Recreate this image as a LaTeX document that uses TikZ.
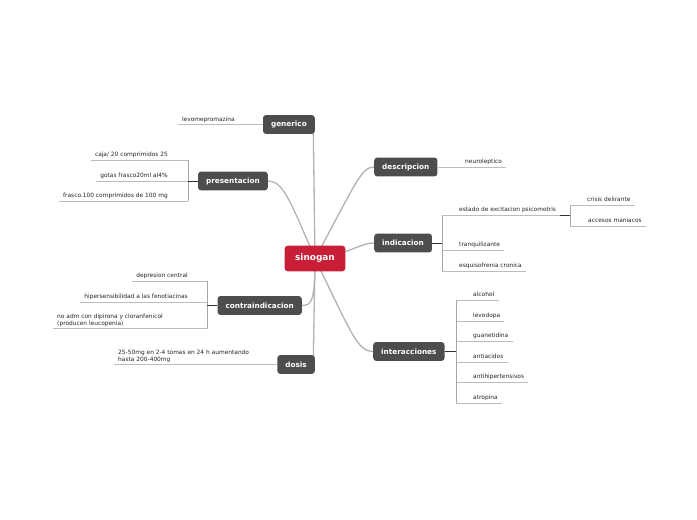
\documentclass[tikz,border=0pt]{standalone}
\usepackage{fontspec}
\setmainfont{DejaVu Sans}
\definecolor{rootred}{RGB}{200, 30, 55}
\definecolor{topicgray}{RGB}{77, 77, 77}
\definecolor{branch}{RGB}{178, 178, 178}
\definecolor{leafrule}{RGB}{188, 188, 188}
\pgfdeclarelayer{background}
\pgfsetlayers{background,main}

\begin{document}
\begin{tikzpicture}[
	x=0.85pt, y=-0.85pt,
	% Styles for the boxes, the leaf texts and the lines
	rootbox/.style={fill=rootred, text=white, rounded corners=3pt, font=\fontsize{7.6}{9}\selectfont\bfseries, minimum height=22pt, inner xsep=9pt},
	topicbox/.style={fill=topicgray, text=white, rounded corners=2.5pt, font=\fontsize{6.2}{7.5}\selectfont\bfseries, minimum height=16pt, inner xsep=6.8pt, inner ysep=0pt},
	leaftwo/.style={font=\fontsize{5}{6}\selectfont, text=black!85, inner xsep=3.4pt, inner ysep=1.3pt},
	leaf/.style={leaftwo, text height=3.8pt, text depth=1.2pt},
	mainline/.style={draw=branch, line width=1.1pt},
	leafline/.style={draw=leafrule, line width=0.6pt},
	brackline/.style={draw=gray!70, line width=0.6pt},
	stubline/.style={draw=black!80, line width=0.8pt}
	]
	
	% ==========================================
	% 1. CENTRAL TOPIC AND MAIN TOPICS
	% ==========================================
	\node[rootbox] (sinogan) at (315,258.5) {sinogan};
	
	\node[topicbox, anchor=east] (generico) at (315,124.5) {generico};
	\node[topicbox, anchor=east] (presentacion) at (268,181) {presentacion};
	\node[topicbox, anchor=west] (descripcion) at (374,167) {descripcion};
	\node[topicbox, anchor=west] (indicacion) at (374,243) {indicacion};
	\node[topicbox, anchor=east] (contraindicacion) at (302,305.5) {contraindicacion};
	\node[topicbox, anchor=east] (dosis) at (315,364.5) {dosis};
	\node[topicbox, anchor=west] (interacciones) at (373,351.5) {interacciones};
	
	% Branches behind the boxes
	\begin{pgfonlayer}{background}
		\fill[white] (0,0) rectangle (697,520);
		\draw[mainline] (sinogan.center) -- ([xshift=-1.5pt]generico.east);
		\draw[mainline] (sinogan.center) .. controls (290,200) and (283,181) .. (presentacion.east);
		\draw[mainline] (sinogan.center) .. controls (355,185) and (361,167) .. (descripcion.west);
		\draw[mainline] (sinogan.center) .. controls (355,252) and (360,243) .. (indicacion.west);
		\draw[mainline] (sinogan.center) .. controls (315,300) and (312,305.5) .. (contraindicacion.east);
		\draw[mainline] (sinogan.center) -- ([xshift=-1.5pt]dosis.east);
		\draw[mainline] (sinogan.center) .. controls (352,335) and (358,351.5) .. (interacciones.west);
	\end{pgfonlayer}
	
	% ==========================================
	% 2. LEFT SIDE
	% ==========================================
	% generico
	\node[leaf, anchor=south east] (levome) at (239,124.5) {levomepromazina};
	\draw[leafline] (levome.south west) -- (generico.west);
	
	% presentacion
	\coordinate (presB) at (188,181);
	\node[leaf, anchor=south east] (caja) at (172,160) {caja/ 20 comprimidos 25};
	\node[leaf, anchor=south east] (gotas) at (172,181) {gotas frasco20ml al4\%};
	\node[leaf, anchor=south east] (frasco) at (172,201) {frasco.100 comprimidos de 100 mg};
	\draw[brackline] (caja.south east -| presB) -- (frasco.south east -| presB);
	\draw[stubline] (presentacion.west) -- (presB);
	\foreach \n in {caja,gotas,frasco}
		\draw[leafline] (\n.south west) -- (\n.south east -| presB);
	
	% contraindicacion
	\coordinate (conB) at (207,305.5);
	\node[leaf, anchor=south east] (depre) at (192,281) {depresion central};
	\node[leaf, anchor=south east] (hiper) at (192,302) {hipersensibilidad a las fenotiacinas};
	\node[leaftwo, anchor=south west, align=left] (noadm) at (53,328.5) {no adm con dipirona y cloranfenicol\\(producen leucopenia)};
	\draw[brackline] (depre.south east -| conB) -- (noadm.south west -| conB);
	\draw[stubline] (contraindicacion.west) -- (conB);
	\foreach \n in {depre,hiper,noadm}
		\draw[leafline] (\n.south west) -- (\n.south west -| conB);
	
	% dosis
	\node[leaftwo, anchor=south west, align=left] (posol) at (114,364.5) {25-50mg en 2-4 tomas en 24 h aumentando\\hasta 200-400mg};
	\draw[leafline] (posol.south west) -- (dosis.west);
	
	% ==========================================
	% 3. RIGHT SIDE
	% ==========================================
	% descripcion
	\node[leaf, anchor=south west] (neuro) at (461,167) {neuroleptico};
	\draw[leafline] (descripcion.east) -- (neuro.south east);
	
	% indicacion
	\coordinate (indB) at (442,243);
	\node[leaf, anchor=south west] (excit) at (455,215) {estado de excitacion psicomotris};
	\node[leaf, anchor=south west] (tranq) at (455,250) {tranquilizante};
	\node[leaf, anchor=south west] (esquiz) at (455,271) {esquisofrenia cronica};
	\draw[brackline] (excit.south west -| indB) -- (esquiz.south west -| indB);
	\draw[stubline] (indicacion.east) -- (indB);
	\foreach \n in {excit,tranq,esquiz}
		\draw[leafline] (\n.south west -| indB) -- (\n.south east);
	
	% sub-branch of estado de excitacion
	\coordinate (excB) at (570,215);
	\node[leaf, anchor=south west] (crisis) at (583,205) {crisis delirante};
	\node[leaf, anchor=south west] (accesos) at (584,226) {accesos maniacos};
	\draw[brackline] (crisis.south west -| excB) -- (accesos.south west -| excB);
	\draw[stubline] (excit.south east) -- (excB);
	\foreach \n in {crisis,accesos}
		\draw[leafline] (\n.south west -| excB) -- (\n.south east);
	
	% interacciones
	\coordinate (intB) at (456,351.5);
	\foreach \n/\txt/\yy in {alc/alcohol/300, levod/levodopa/321, guan/guanetidina/341,
		antiac/antiacidos/362, antihip/antihipertensivos/382, atrop/atropina/403}
	{
		\node[leaf, anchor=south west] (\n) at (469,\yy) {\txt};
		\draw[leafline] (\n.south west -| intB) -- (\n.south east);
	}
	\draw[brackline] (alc.south west -| intB) -- (atrop.south west -| intB);
	\draw[stubline] (interacciones.east) -- (intB);
	
\end{tikzpicture}
\end{document}
